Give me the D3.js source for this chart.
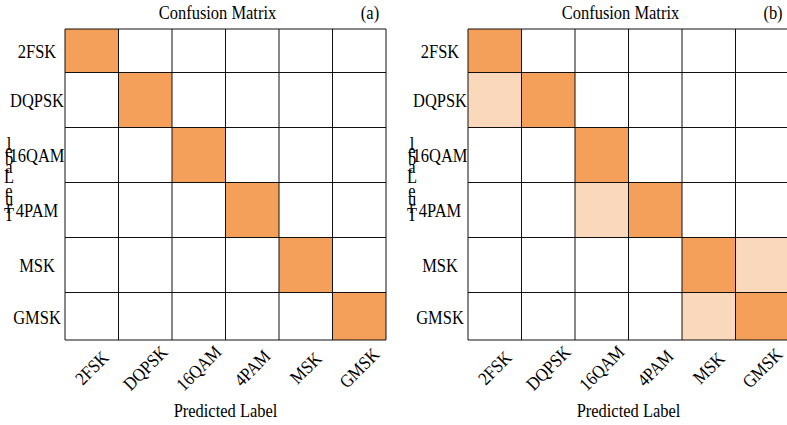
<!DOCTYPE html>
<html>
<head>
<meta charset="utf-8">
<script src="https://cdn.jsdelivr.net/npm/d3@7"></script>
<style>
  html, body { margin: 0; padding: 0; background: #fff; }
  svg { display: block; }
  text { font-family: "Liberation Serif", "Times New Roman", serif; fill: #000; }
</style>
</head>
<body>
<div id="chart"></div>
<script>
// ---- data ----
const categories = ["2FSK", "DQPSK", "16QAM", "4PAM", "MSK", "GMSK"];
const matrixA = [
  [1, 0, 0, 0, 0, 0],
  [0, 1, 0, 0, 0, 0],
  [0, 0, 1, 0, 0, 0],
  [0, 0, 0, 1, 0, 0],
  [0, 0, 0, 0, 1, 0],
  [0, 0, 0, 0, 0, 1]
];
const matrixB = [
  [1, 0, 0, 0, 0, 0],
  [0.41, 1, 0, 0, 0, 0],
  [0, 0, 1, 0, 0, 0],
  [0, 0, 0.41, 1, 0, 0],
  [0, 0, 0, 0, 1, 0.41],
  [0, 0, 0, 0, 0.41, 1]
];
const panelLetters = ["(a)", "(b)"];
const titleText = "Confusion Matrix";
const xLabelText = "Predicted Label";
const yLabelText = "True Label";

// ---- layout ----
const W = 787, H = 425;
const FONT = 18.5;
const SX = 0.89;   // glyphs are horizontally condensed in the reference
const panels = [
  { matrix: matrixA, letter: panelLetters[0], left: 65 },
  { matrix: matrixB, letter: panelLetters[1], left: 468 }
];
const cellW = 53.5;
const gridTop = 29, gridBottom = 340;

const svg = d3.select("#chart").append("svg")
  .attr("width", W).attr("height", H);

const color = d3.scaleLinear().domain([0, 1]).range(["#ffffff", "#F4A05A"]);

// row boundaries: linear with clipping of first and last rows
const yLin = d3.scaleLinear().domain([0, 6]).range([17.5, 347.5]);
const yB = i => Math.max(gridTop, Math.min(gridBottom, yLin(i)));

const ctx = document.createElement("canvas").getContext("2d");
ctx.font = `${FONT}px "Liberation Serif"`;

const tf = (x, y, r = 0) => `translate(${x},${y}) rotate(${r}) scale(${SX},1)`;

panels.forEach(p => {
  const n = categories.length;
  const x = d3.scaleLinear().domain([0, n]).range([p.left, p.left + cellW * n]);
  const g = svg.append("g");

  const cells = [];
  p.matrix.forEach((row, r) => row.forEach((v, c) => cells.push({ r, c, v })));

  g.selectAll("rect.cell").data(cells).join("rect")
    .attr("class", "cell")
    .attr("x", d => x(d.c))
    .attr("y", d => yB(d.r))
    .attr("width", d => x(d.c + 1) - x(d.c))
    .attr("height", d => yB(d.r + 1) - yB(d.r))
    .attr("fill", d => color(d.v));

  const idx = d3.range(n + 1);
  g.selectAll("line.v").data(idx).join("line")
    .attr("x1", d => x(d)).attr("x2", d => x(d))
    .attr("y1", gridTop).attr("y2", gridBottom)
    .attr("stroke", "#111").attr("stroke-width", 1);
  g.selectAll("line.h").data(idx).join("line")
    .attr("x1", x(0)).attr("x2", x(n))
    .attr("y1", d => yB(d)).attr("y2", d => yB(d))
    .attr("stroke", "#111").attr("stroke-width", 1);

  g.selectAll("text.ytick").data(categories).join("text")
    .attr("class", "ytick")
    .attr("transform", (d, i) => tf(x(0) - 28, (yB(i) + yB(i + 1)) / 2 + 1))
    .attr("text-anchor", "middle")
    .attr("dominant-baseline", "central")
    .attr("font-size", FONT)
    .text(d => d);

  g.selectAll("text.xtick").data(categories).join("text")
    .attr("class", "xtick")
    .attr("transform", (d, i) => tf((x(i) + x(i + 1)) / 2, 368, -45))
    .attr("text-anchor", "middle")
    .attr("dominant-baseline", "central")
    .attr("font-size", FONT)
    .text(d => d);

  const cx = (x(0) + x(n)) / 2;
  g.append("text")
    .attr("transform", tf(cx - 8, 19))
    .attr("text-anchor", "middle")
    .attr("font-size", FONT)
    .text(titleText);
  g.append("text")
    .attr("transform", tf(x(0) + 305, 19))
    .attr("text-anchor", "middle")
    .attr("font-size", FONT)
    .text(p.letter);
  g.append("text")
    .attr("transform", tf(cx, 417))
    .attr("text-anchor", "middle")
    .attr("font-size", FONT)
    .text(xLabelText);

  // y label: upright glyphs stacked, reading bottom-to-top
  const chars = yLabelText.split("");
  const spread = 0.965;
  const total = ctx.measureText(yLabelText).width * spread;
  const midY = (gridTop + gridBottom) / 2 - 3.5;
  const startY = midY + total / 2;
  let acc = 0;
  const charPos = chars.map(ch => {
    const w = ctx.measureText(ch).width * spread;
    const pos = { ch, y: startY - acc - w / 2 };
    acc += w;
    return pos;
  }).filter(d => d.ch !== " ");
  g.selectAll("text.ylab").data(charPos).join("text")
    .attr("class", "ylab")
    .attr("transform", d => tf(x(0) - 56, d.y))
    .attr("text-anchor", "middle")
    .attr("dominant-baseline", "central")
    .attr("font-size", FONT)
    .text(d => d.ch);
});
</script>
</body>
</html>
